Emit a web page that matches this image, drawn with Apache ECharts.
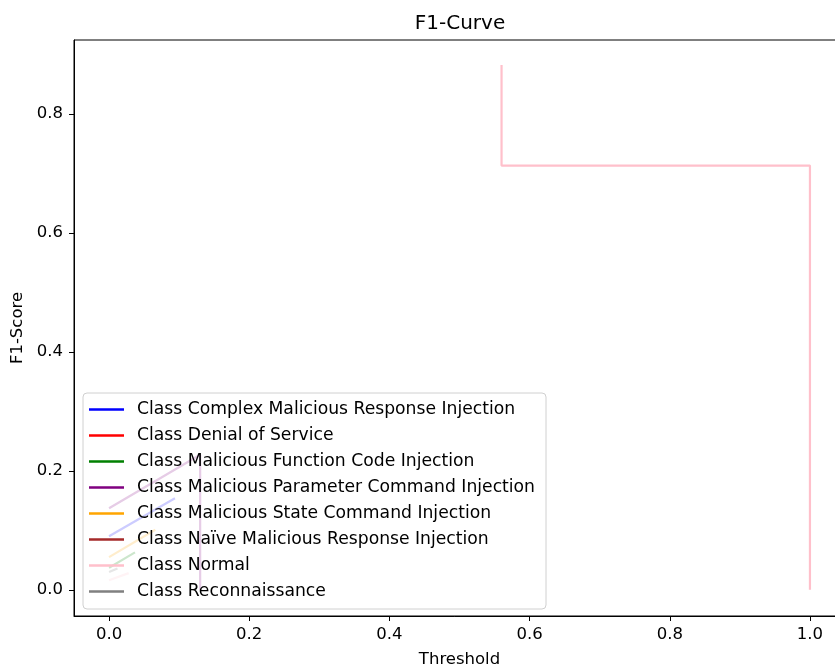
<!DOCTYPE html>
<html>
<head>
<meta charset="utf-8">
<title>F1-Curve</title>
<script src="https://cdn.jsdelivr.net/npm/echarts@6/dist/echarts.min.js"></script>
<style>
  html, body { margin: 0; padding: 0; background: #fff; }
  #main { width: 835px; height: 668px; }
</style>
</head>
<body>
<div id="main"></div>
<script>
// class names, in legend order
const classNames = [
  'Class Complex Malicious Response Injection',
  'Class Denial of Service',
  'Class Malicious Function Code Injection',
  'Class Malicious Parameter Command Injection',
  'Class Malicious State Command Injection',
  'Class Naïve Malicious Response Injection',
  'Class Normal',
  'Class Reconnaissance',
];
const classColors = ['#0000ff', '#ff0000', '#008000', '#800080', '#ffa500', '#a52a2a', '#ffc0cb', '#808080'];

// [threshold, f1] points
const complexResponse = [[0, 0.090], [0.094, 0.154]];
const denialOfService = [];
const functionCode = [[0, 0.037], [0.037, 0.063]];
const parameterCommand = [[0, 0.137], [0.130, 0.227], [0.130, 0.0]];
const stateCommand = [[0, 0.055], [0.066, 0.101]];
const naiveResponse = [];
const normal = [[0, 0.016], [0.028, 0.028], null, [0.56, 0.882], [0.56, 0.713], [1.0, 0.713], [1.0, 0.0]];
const reconnaissance = [[0, 0.030], [0.012, 0.036]];
const seriesValues = [complexResponse, denialOfService, functionCode, parameterCommand,
  stateCommand, naiveResponse, normal, reconnaissance];

const xTicks = [0, 0.2, 0.4, 0.6, 0.8, 1.0];
const yTicks = [0, 0.2, 0.4, 0.6, 0.8];

const font = 'DejaVu Sans';
const chart = echarts.init(document.getElementById('main'));

// legend handle: a short line, with an empty segment to keep the box 16px high
const handleIcon = 'path://M0,0L0,16M0,6.75H35V9.25H0Z';

chart.setOption({
  animation: false,
  backgroundColor: '#fff',
  title: {
    text: 'F1-Curve',
    left: 455,
    textAlign: 'center',
    top: 9,
    textStyle: { fontFamily: font, fontSize: 20, fontWeight: 'normal', color: '#000' },
  },
  grid: {
    left: 74, top: 40, width: 771, height: 576,
    outerBoundsMode: 'none',
    containLabel: false,
    show: true, borderColor: '#000', borderWidth: 1, backgroundColor: 'transparent',
  },
  legend: {
    orient: 'vertical',
    left: 83,
    top: 393,
    padding: [8, 11, 9, 6],
    icon: handleIcon,
    itemWidth: 35,
    itemHeight: 16,
    itemGap: 9,
    itemStyle: { borderWidth: 0 },
    backgroundColor: 'rgba(255,255,255,0.8)',
    borderColor: '#d0d0d0',
    borderWidth: 1,
    borderRadius: 4,
    textStyle: { fontFamily: font, fontSize: 17.2, color: '#000', lineHeight: 16, padding: [0, 0, 0, 8] },
    data: classNames,
  },
  xAxis: {
    type: 'value',
    min: -0.05,
    max: 1.05,
    name: 'Threshold',
    nameLocation: 'middle',
    nameGap: 35,
    nameTextStyle: { fontFamily: font, fontSize: 16.5, color: '#000' },
    axisLine: { show: true, onZero: false, lineStyle: { color: '#000', width: 1 } },
    axisTick: { show: true, customValues: xTicks, length: 5, lineStyle: { color: '#000' } },
    axisLabel: {
      customValues: xTicks, margin: 10,
      fontFamily: font, fontSize: 16.5, color: '#000',
      formatter: v => v.toFixed(1),
    },
    splitLine: { show: false },
  },
  yAxis: {
    type: 'value',
    min: -0.044,
    max: 0.924,
    name: 'F1-Score',
    nameLocation: 'middle',
    nameGap: 46,
    nameTextStyle: { fontFamily: font, fontSize: 16.5, color: '#000' },
    axisLine: { show: true, onZero: false, lineStyle: { color: '#000', width: 1 } },
    axisTick: { show: true, customValues: yTicks, length: 5, lineStyle: { color: '#000' } },
    axisLabel: {
      customValues: yTicks, margin: 11,
      fontFamily: font, fontSize: 16.5, color: '#000',
      formatter: v => v.toFixed(1),
    },
    splitLine: { show: false },
  },
  series: classNames.map((name, i) => ({
    name: name,
    type: 'line',
    data: seriesValues[i],
    symbol: 'none',
    connectNulls: false,
    color: classColors[i],
    lineStyle: { width: 2.2, color: classColors[i] },
  })),
});
</script>
</body>
</html>
